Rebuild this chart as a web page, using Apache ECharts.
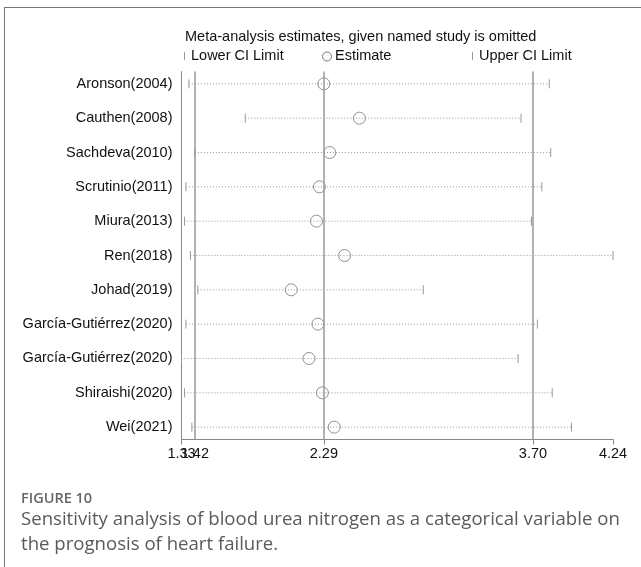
<!DOCTYPE html>
<html>
<head>
<meta charset="utf-8">
<script src="https://cdn.jsdelivr.net/npm/echarts@6/dist/echarts.min.js"></script>
<style>
html,body{margin:0;padding:0;background:#fff;}
#chart{width:641px;height:567px;}
</style>
</head>
<body>
<div id="chart"></div>
<script>
const studies = ['Aronson(2004)','Cauthen(2008)','Sachdeva(2010)','Scrutinio(2011)','Miura(2013)','Ren(2018)','Johad(2019)','García-Gutiérrez(2020)','García-Gutiérrez(2020)','Shiraishi(2020)','Wei(2021)'];
const lowerCI = [1.38, 1.76, 1.42, 1.36, 1.35, 1.39, 1.44, 1.36, 1.33, 1.35, 1.40];
const estimate = [2.29, 2.53, 2.33, 2.26, 2.24, 2.43, 2.07, 2.25, 2.19, 2.28, 2.36];
const upperCI = [3.81, 3.62, 3.82, 3.76, 3.69, 4.24, 2.96, 3.73, 3.60, 3.83, 3.96];
const refLines = [1.42, 2.29, 3.70];
const xTicks = [1.33, 1.42, 2.29, 3.70, 4.24];
const xTicksExtra = [1.42];
const xMin = 1.33, xMax = 4.24;
const titleText = 'Meta-analysis estimates, given named study is omitted';
const captionHead = 'FIGURE 10';
const captionLines = ['Sensitivity analysis of blood urea nitrogen as a categorical variable on', 'the prognosis of heart failure.'];

const rowIdx = studies.map((_, i) => i);
const ciData = rowIdx.map(i => [lowerCI[i], upperCI[i], i]);
const estData = rowIdx.map(i => [estimate[i], i]);

const FONT = "'Liberation Sans', Arial, sans-serif";
const CAPFONT = "'Open Sans', sans-serif";

const labelStyle = {color: '#111', fontFamily: FONT, fontSize: 14.5, margin: 7, hideOverlap: false, formatter: v => v.toFixed(2)};

const chart = echarts.init(document.getElementById('chart'), null, {renderer: 'canvas'});
chart.setOption({
  animation: false,
  backgroundColor: '#fff',
  grid: {left: 181.5, right: 28, top: 71.5, bottom: 127.5, containLabel: false},
  xAxis: [{
    type: 'value', min: xMin, max: xMax, position: 'bottom',
    axisLine: {show: true, onZero: false, lineStyle: {color: '#888', width: 1}},
    axisTick: {show: true, length: 5, lineStyle: {color: '#888'}, customValues: xTicks},
    axisLabel: Object.assign({show: true, customValues: xTicks, showMinLabel: true, showMaxLabel: true}, labelStyle),
    splitLine: {show: false}
  }, {
    type: 'value', min: xMin, max: xMax, position: 'bottom',
    axisLine: {show: false, onZero: false},
    axisTick: {show: false},
    axisLabel: Object.assign({show: true, customValues: xTicksExtra}, labelStyle),
    splitLine: {show: false}
  }],
  yAxis: {
    type: 'value', inverse: true, min: -0.36, max: 10.36,
    axisLine: {show: true, onZero: false, lineStyle: {color: '#888', width: 1}},
    axisTick: {show: false},
    axisLabel: {show: true, customValues: rowIdx, formatter: v => studies[Math.round(v)], color: '#111', fontFamily: FONT, fontSize: 14.5, margin: 9},
    splitLine: {show: false}
  },
  series: [
    {
      type: 'custom', name: 'CI', z: 2, xAxisIndex: 0,
      encode: {x: [0, 1], y: 2},
      data: ciData,
      renderItem: function (params, api) {
        const lo = api.coord([api.value(0), api.value(2)]);
        const hi = api.coord([api.value(1), api.value(2)]);
        return {type: 'group', children: [
          {type: 'line', shape: {x1: lo[0], y1: lo[1], x2: hi[0], y2: hi[1]}, style: {stroke: '#999', lineWidth: 1, lineDash: [1, 2]}},
          {type: 'line', shape: {x1: lo[0], y1: lo[1] - 4.5, x2: lo[0], y2: lo[1] + 4.5}, style: {stroke: '#999', lineWidth: 1}},
          {type: 'line', shape: {x1: hi[0], y1: hi[1] - 4.5, x2: hi[0], y2: hi[1] + 4.5}, style: {stroke: '#999', lineWidth: 1}}
        ]};
      }
    },
    {
      type: 'scatter', name: 'Estimate', z: 4, xAxisIndex: 0,
      data: estData, symbol: 'circle', symbolSize: 12,
      itemStyle: {color: 'rgba(255,255,255,0)', borderColor: '#777', borderWidth: 1},
      markLine: {
        silent: true, symbol: 'none', label: {show: false},
        lineStyle: {color: '#999', width: 1.5, type: 'solid'},
        data: refLines.map(v => ({xAxis: v}))
      }
    }
  ],
  graphic: [
    {type: 'line', shape: {x1: 4, y1: 7.5, x2: 641, y2: 7.5}, style: {stroke: '#777', lineWidth: 1}},
    {type: 'line', shape: {x1: 4.5, y1: 7, x2: 4.5, y2: 567}, style: {stroke: '#777', lineWidth: 1}},
    {type: 'text', left: 185, top: 29, style: {text: titleText, font: '14.5px ' + FONT, fill: '#111'}},
    {type: 'line', shape: {x1: 184.5, y1: 52, x2: 184.5, y2: 60}, style: {stroke: '#999', lineWidth: 1}},
    {type: 'text', left: 191, top: 48, style: {text: 'Lower CI Limit', font: '14.5px ' + FONT, fill: '#111'}},
    {type: 'circle', shape: {cx: 327, cy: 56.5, r: 4.5}, style: {fill: 'none', stroke: '#777', lineWidth: 1}},
    {type: 'text', left: 335, top: 48, style: {text: 'Estimate', font: '14.5px ' + FONT, fill: '#111'}},
    {type: 'line', shape: {x1: 472.5, y1: 52, x2: 472.5, y2: 60}, style: {stroke: '#999', lineWidth: 1}},
    {type: 'text', left: 479, top: 48, style: {text: 'Upper CI Limit', font: '14.5px ' + FONT, fill: '#111'}},
    {type: 'text', left: 21, top: 491, style: {text: captionHead, font: '600 14.5px ' + CAPFONT, fill: '#666'}},
    {type: 'text', left: 21, top: 510, style: {text: captionLines[0], font: '18.6px ' + CAPFONT, fill: '#5a5a5a'}},
    {type: 'text', left: 21, top: 535, style: {text: captionLines[1], font: '18.6px ' + CAPFONT, fill: '#5a5a5a'}}
  ]
});
</script>
</body>
</html>
